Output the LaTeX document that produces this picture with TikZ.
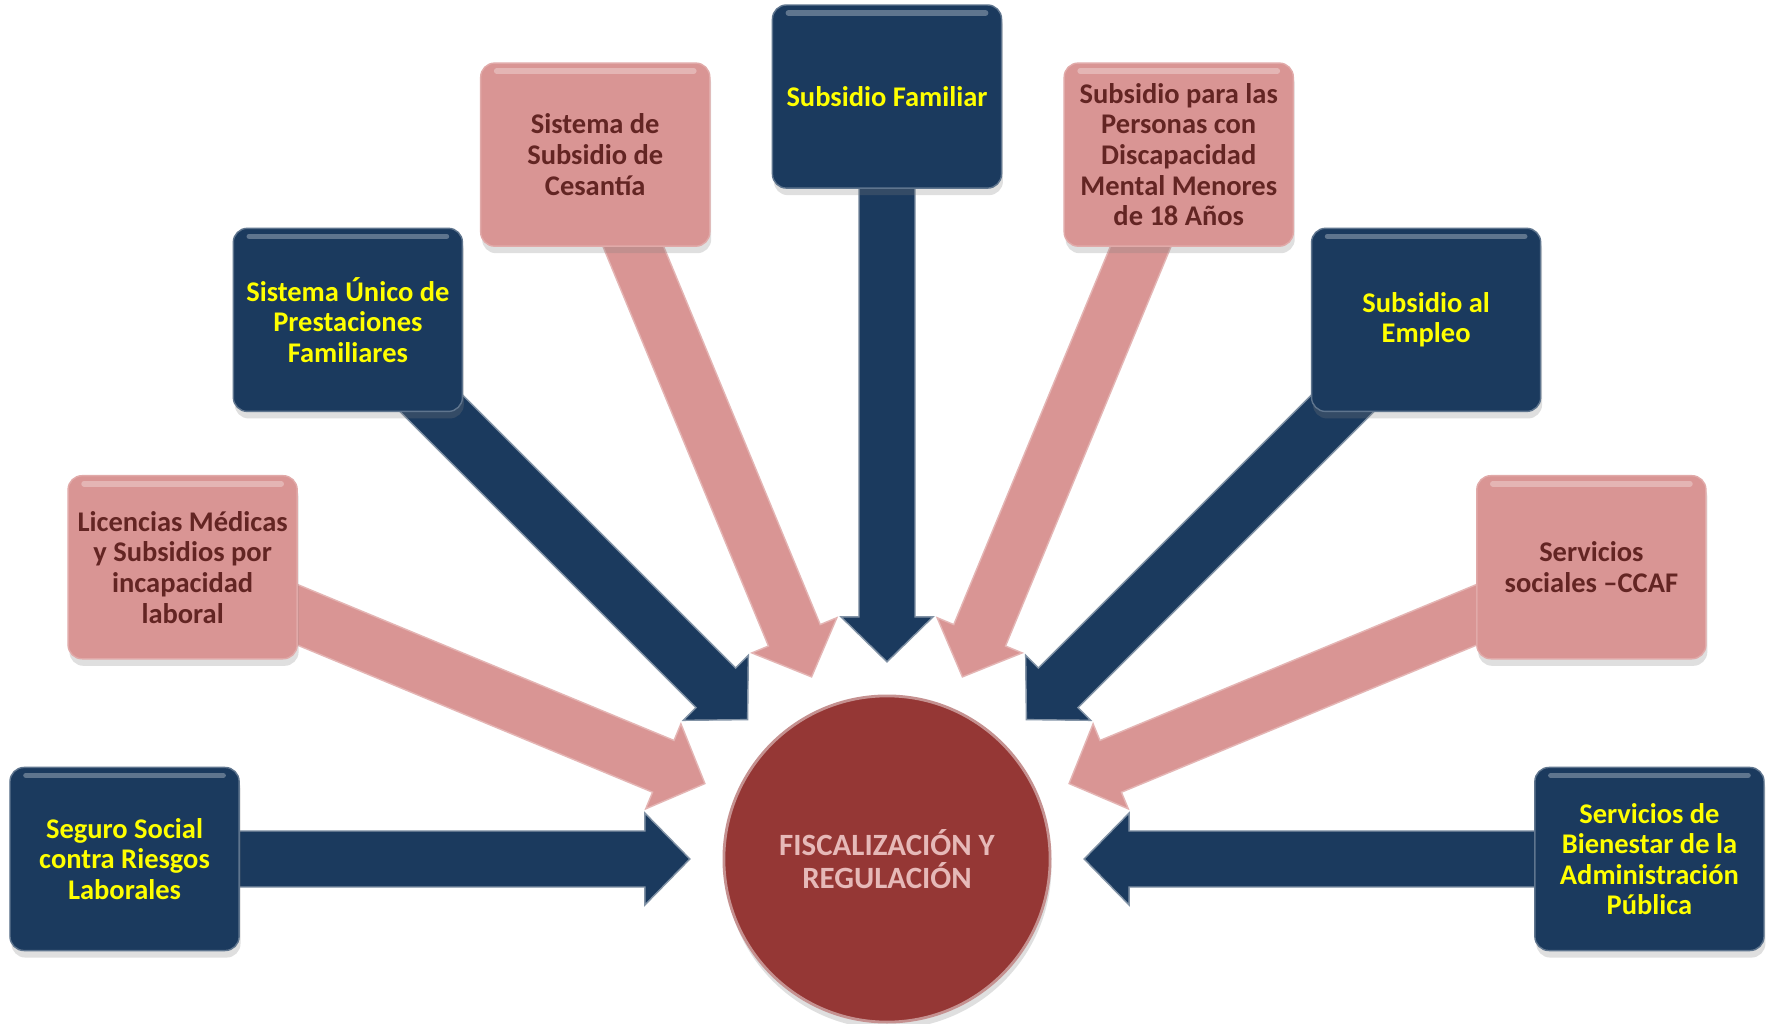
\documentclass[tikz,border=0pt]{standalone}
\usepackage{fontspec}
\setmainfont{Carlito}
\usepackage{tikz}
\usetikzlibrary{calc, backgrounds, shadows}

\definecolor{navy}{HTML}{1B3A5E}
\definecolor{rosa}{HTML}{D99594}
\definecolor{vino}{HTML}{953735}
\definecolor{vinotxt}{HTML}{632523}
\definecolor{rosatxt}{HTML}{E6B9B8}
\definecolor{amarillo}{HTML}{FFFF00}

\tikzset{
    box/.style={
        rectangle,
        rounded corners=0.14cm,
        minimum width=2.29cm,
        minimum height=1.83cm,
        inner sep=1pt,
        align=center,
        font=\bfseries\fontsize{8.1}{8.7}\selectfont,
        drop shadow={shadow xshift=0.4pt, shadow yshift=-2pt, opacity=0.25},
        path picture={
            \draw[white, opacity=0.3, line width=1.6pt, line cap=round]
                ([xshift=0.16cm, yshift=-0.08cm]path picture bounding box.north west) --
                ([xshift=-0.16cm, yshift=-0.08cm]path picture bounding box.north east);
        }
    },
    navybox/.style={
        box,
        fill=navy,
        draw=navy!70!white,
        text=amarillo
    },
    rosabox/.style={
        box,
        fill=rosa,
        draw=rosa!80!white,
        text=vinotxt
    },
    hub/.style={
        circle,
        minimum size=3.26cm,
        fill=vino,
        draw=vino!55!white,
        line width=0.8pt,
        text=rosatxt,
        align=center,
        font=\bfseries\fontsize{8.8}{9.2}\selectfont,
        drop shadow={shadow xshift=0.4pt, shadow yshift=-2pt, opacity=0.25}
    },
    navyarrow/.style={
        fill=navy,
        draw=navy!55!white,
        line width=0.4pt
    },
    rosaarrow/.style={
        fill=rosa,
        draw=rosa!70!white,
        line width=0.4pt
    }
}

% block arrow: style, start node, tip
\newcommand{\bigarrow}[3]{%
    \coordinate (hb) at ($(#3)!0.45cm!(#2.center)$);
    \path[#1] ($(#2.center)!0.28cm!90:(#3)$) -- ($(hb)!0.28cm!90:(#3)$) -- ($(hb)!0.46cm!90:(#3)$) -- (#3)
        -- ($(hb)!0.46cm!-90:(#3)$) -- ($(hb)!0.28cm!-90:(#3)$) -- ($(#2.center)!0.28cm!-90:(#3)$) -- cycle;
}

\begin{document}
\begin{tikzpicture}[x=0.01cm, y=-0.01cm]

\useasboundingbox (0,0) rectangle (1771,1024);

\node[hub] (fr) at (887,859) {FISCALIZACIÓN Y\\REGULACIÓN};

\node[navybox] (seg) at ($(fr)+(180:7.62cm)$) {Seguro Social\\contra Riesgos\\Laborales};
\node[rosabox] (lic) at ($(fr)+(157.5:7.62cm)$) {Licencias Médicas\\y Subsidios por\\incapacidad\\laboral};
\node[navybox] (uni) at ($(fr)+(135:7.62cm)$) {Sistema Único de\\Prestaciones\\Familiares};
\node[rosabox] (ces) at ($(fr)+(112.5:7.62cm)$) {Sistema de\\Subsidio de\\Cesantía};
\node[navybox] (fam) at ($(fr)+(90:7.62cm)$) {Subsidio Familiar};
\node[rosabox] (per) at ($(fr)+(67.5:7.62cm)$) {Subsidio para las\\Personas con\\Discapacidad\\Mental Menores\\de 18 Años};
\node[navybox] (emp) at ($(fr)+(45:7.62cm)$) {Subsidio al\\Empleo};
\node[rosabox] (ccaf) at ($(fr)+(22.5:7.62cm)$) {Servicios\\sociales –CCAF};
\node[navybox] (bie) at ($(fr)+(0:7.62cm)$) {Servicios de\\Bienestar de la\\Administración\\Pública};

% arrow tips round the hub
\foreach \n in {seg,lic,uni,ces,fam,per,emp,ccaf,bie}
    \coordinate (t-\n) at ($(fr.center)!1.97cm!(\n.center)$);

\begin{scope}[on background layer]
    \fill[white] (0,0) rectangle (1771,1024);
    \bigarrow{navyarrow}{seg}{t-seg}
    \bigarrow{rosaarrow}{lic}{t-lic}
    \bigarrow{navyarrow}{uni}{t-uni}
    \bigarrow{rosaarrow}{ces}{t-ces}
    \bigarrow{navyarrow}{fam}{t-fam}
    \bigarrow{rosaarrow}{per}{t-per}
    \bigarrow{navyarrow}{emp}{t-emp}
    \bigarrow{rosaarrow}{ccaf}{t-ccaf}
    \bigarrow{navyarrow}{bie}{t-bie}
\end{scope}

\end{tikzpicture}
\end{document}
